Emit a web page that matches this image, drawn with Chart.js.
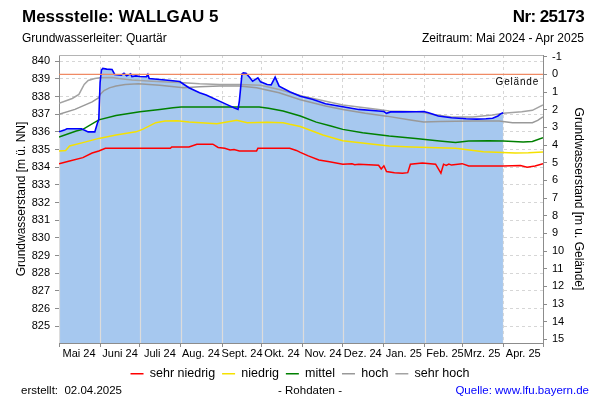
<!DOCTYPE html>
<html><head><meta charset="utf-8">
<script src="https://cdn.jsdelivr.net/npm/chart.js@4/dist/chart.umd.min.js"></script>
<style>
body{margin:0;background:#fff;}
#wrap{position:relative;width:600px;height:400px;font-family:"Liberation Sans",Arial,sans-serif;color:#000;overflow:hidden;}
#wrap canvas{position:absolute;left:0;top:0;}
.t{position:absolute;white-space:nowrap;line-height:1;}
</style></head><body>
<div id="wrap">
<canvas id="c" width="600" height="400"></canvas>
<div class="t" style="left:22px;top:8px;font-size:17px;font-weight:bold;">Messstelle: WALLGAU 5</div>
<div class="t" style="right:16px;top:8px;font-size:17px;font-weight:bold;letter-spacing:-0.6px;">Nr: 25173</div>
<div class="t" style="left:22px;top:32px;font-size:12px;">Grundwasserleiter: Quartär</div>
<div class="t" style="right:16px;top:32px;font-size:12px;">Zeitraum: Mai 2024 - Apr 2025</div>
<div class="t" style="left:21px;top:385px;font-size:11.5px;">erstellt:&nbsp; 02.04.2025</div>
<div class="t" style="left:310px;transform:translateX(-50%);top:385px;font-size:11.5px;">- Rohdaten -</div>
<div class="t" style="right:11px;top:385px;font-size:11.5px;color:#0000ff;">Quelle: www.lfu.bayern.de</div>
</div>
<script>
const FONT = "'Liberation Sans', Arial, sans-serif";

// ---- axes / categories ----
const monthStarts = ['2024-05-01','2024-06-01','2024-07-01','2024-08-01','2024-09-01','2024-10-01','2024-11-01','2024-12-01','2025-01-01','2025-02-01','2025-03-01','2025-04-01','2025-05-01'];
const monthLabels = ['Mai 24','Juni 24','Juli 24','Aug. 24','Sept. 24','Okt. 24','Nov. 24','Dez. 24','Jan. 25','Feb. 25','Mrz. 25','Apr. 25'];
const levelTicks = [825,826,827,828,829,830,831,832,833,834,835,836,837,838,839,840];
const depthTicks = [-1,0,1,2,3,4,5,6,7,8,9,10,11,12,13,14,15];
const groundLevel = 839.25;

// ---- measured groundwater level (m ü. NN) ----
const measuredDates = ['2024-05-01','2024-05-05','2024-05-07','2024-05-18','2024-05-20','2024-05-23','2024-05-28','2024-05-30','2024-05-31','2024-06-01','2024-06-02','2024-06-03','2024-06-06','2024-06-10','2024-06-12','2024-06-17','2024-06-19','2024-06-21','2024-06-24','2024-06-25','2024-06-28','2024-07-01','2024-07-06','2024-07-07','2024-07-08','2024-07-16','2024-07-24','2024-07-31','2024-08-07','2024-08-15','2024-08-20','2024-08-30','2024-09-06','2024-09-10','2024-09-13','2024-09-14','2024-09-16','2024-09-17','2024-09-19','2024-09-22','2024-09-24','2024-09-28','2024-09-30','2024-10-05','2024-10-08','2024-10-11','2024-10-14','2024-10-22','2024-10-30','2024-11-08','2024-11-18','2024-12-01','2024-12-13','2024-12-28','2025-01-01','2025-01-03','2025-01-06','2025-01-15','2025-01-25','2025-01-31','2025-02-03','2025-02-06','2025-02-11','2025-02-21','2025-03-04','2025-03-12','2025-03-19','2025-03-24','2025-03-28','2025-03-30','2025-04-01'];
const measuredValues = [836.00,836.10,836.18,836.18,836.10,836.00,836.00,836.50,836.70,838.80,839.50,839.59,839.55,839.53,839.25,839.21,839.32,839.17,839.29,839.13,839.17,839.13,839.12,839.25,839.02,838.96,838.91,838.85,838.50,838.21,838.08,837.74,837.50,837.36,837.27,837.74,839.28,839.34,839.32,839.06,838.87,839.06,838.83,838.68,838.66,839.10,838.59,838.27,838.02,837.84,837.59,837.42,837.27,837.18,837.15,837.05,837.13,837.13,837.14,837.15,837.10,837.03,836.90,836.80,836.74,836.72,836.74,836.77,836.90,837.02,837.08];

// ---- reference levels ----
const sehrHochDates = ['2024-05-01','2024-05-11','2024-05-16','2024-05-20','2024-05-23','2024-05-28','2024-06-01','2024-06-10','2024-06-15','2024-06-25','2024-07-10','2024-08-03','2024-08-15','2024-08-30','2024-09-14','2024-09-30','2024-10-14','2024-11-01','2024-12-01','2024-12-28','2025-01-05','2025-01-28','2025-02-06','2025-02-21','2025-03-09','2025-03-24','2025-04-01','2025-04-15','2025-04-23','2025-05-01'];
const sehrHochValues = [837.61,837.89,838.12,838.68,838.91,839.02,839.06,839.08,839.02,838.93,838.87,838.78,838.72,838.68,838.68,838.64,838.40,838.02,837.52,837.27,837.18,837.14,836.99,836.84,836.84,836.95,837.05,837.14,837.22,837.52];

const hochDates = ['2024-05-01','2024-05-13','2024-05-26','2024-05-31','2024-06-01','2024-06-04','2024-06-08','2024-06-13','2024-06-20','2024-06-30','2024-07-16','2024-08-03','2024-08-15','2024-08-30','2024-09-14','2024-09-27','2024-10-14','2024-10-30','2024-11-18','2024-12-01','2024-12-18','2025-01-03','2025-01-21','2025-01-31','2025-02-12','2025-03-09','2025-03-29','2025-04-08','2025-04-23','2025-04-27','2025-05-01'];
const hochValues = [836.99,837.27,837.70,837.93,838.12,838.34,838.49,838.59,838.68,838.72,838.64,838.49,838.55,838.59,838.59,838.49,838.21,837.82,837.46,837.27,837.05,836.89,836.67,836.56,836.58,836.61,836.61,836.52,836.52,836.65,836.85];

const mittelDates = ['2024-05-01','2024-05-14','2024-05-19','2024-05-31','2024-06-13','2024-07-01','2024-07-16','2024-07-26','2024-08-01','2024-09-29','2024-10-06','2024-10-17','2024-10-30','2024-11-11','2024-11-22','2024-12-01','2024-12-16','2025-01-05','2025-01-25','2025-02-12','2025-02-24','2025-03-06','2025-03-21','2025-04-01','2025-04-16','2025-04-23','2025-05-01'];
const mittelValues = [835.71,836.05,836.14,836.68,836.92,837.14,837.27,837.36,837.40,837.40,837.33,837.18,836.90,836.55,836.33,836.14,835.95,835.77,835.63,835.48,835.40,835.48,835.50,835.48,835.43,835.46,835.67];

const niedrigDates = ['2024-05-01','2024-05-06','2024-05-09','2024-05-19','2024-05-31','2024-06-13','2024-06-28','2024-07-03','2024-07-13','2024-07-20','2024-07-29','2024-08-07','2024-08-28','2024-09-12','2024-09-20','2024-10-05','2024-10-17','2024-10-22','2024-10-30','2024-11-16','2024-12-01','2024-12-24','2025-01-05','2025-01-22','2025-02-24','2025-03-02','2025-03-17','2025-04-10','2025-04-20','2025-05-01'];
const niedrigValues = [834.92,834.95,835.20,835.39,835.63,835.82,836.00,836.14,836.52,836.61,836.63,836.56,836.46,836.65,836.52,836.55,836.52,836.43,836.30,835.82,835.50,835.30,835.20,835.14,835.07,835.01,834.87,834.81,834.82,834.86];

const sehrNiedrigDates = ['2024-05-01','2024-05-09','2024-05-19','2024-05-26','2024-05-31','2024-06-05','2024-07-24','2024-07-25','2024-08-07','2024-08-13','2024-08-25','2024-08-29','2024-09-03','2024-09-07','2024-09-10','2024-09-14','2024-09-27','2024-09-28','2024-10-22','2024-10-27','2024-10-30','2024-11-05','2024-11-13','2024-11-21','2024-12-01','2024-12-08','2024-12-10','2024-12-13','2024-12-28','2024-12-30','2025-01-01','2025-01-03','2025-01-09','2025-01-15','2025-01-19','2025-01-21','2025-01-30','2025-02-09','2025-02-13','2025-02-15','2025-02-17','2025-02-19','2025-02-21','2025-03-01','2025-03-06','2025-04-01','2025-04-14','2025-04-19','2025-04-25','2025-05-01'];
const sehrNiedrigValues = [834.20,834.35,834.54,834.80,834.92,835.07,835.07,835.14,835.14,835.30,835.30,835.12,835.07,834.97,835.00,834.92,834.92,835.07,835.07,834.95,834.84,834.64,834.41,834.31,834.17,834.19,834.14,834.17,834.11,833.90,834.08,833.75,833.69,833.66,833.69,834.17,834.24,834.17,833.66,834.17,834.10,834.18,834.12,834.20,834.07,834.07,834.10,834.00,834.07,834.20];

// ---- helpers ----
const BASE = Date.UTC(2024, 4, 1);
function dayOf(s){ const p = s.split('-').map(Number); return (Date.UTC(p[0], p[1]-1, p[2]) - BASE) / 86400000; }
function pts(dates, vals){ return dates.map((d, i) => ({x: dayOf(d), y: vals[i]})); }
function lineDs(label, dates, vals, color, order){
  return {label, data: pts(dates, vals), borderColor: color, backgroundColor: color, borderWidth: 1.5, pointRadius: 0, fill: false, order, yAxisID: 'y', tension: 0};
}
const AXIS = '#8c8c8c';

const decor = {
  id: 'decor',
  beforeDatasetsDraw(chart){
    const {ctx, chartArea: a} = chart;
    // month separators inside the measured-level area
    const meta = chart.getDatasetMeta(5);
    const p = meta.data;
    if (p && p.length){
      ctx.save();
      ctx.beginPath();
      ctx.moveTo(p[0].x, a.bottom);
      p.forEach(q => ctx.lineTo(q.x, q.y));
      ctx.lineTo(p[p.length-1].x, a.bottom);
      ctx.closePath();
      ctx.clip();
      ctx.strokeStyle = '#dcdcdc';
      ctx.lineWidth = 1.2;
      monthStarts.forEach(d => {
        const x = Math.round(chart.scales.x.getPixelForValue(dayOf(d))) + 0.5;
        ctx.beginPath(); ctx.moveTo(x, a.top); ctx.lineTo(x, a.bottom); ctx.stroke();
      });
      ctx.restore();
    }
    // top frame
    ctx.save();
    ctx.strokeStyle = '#b4b4b4'; ctx.lineWidth = 1;
    ctx.beginPath(); ctx.moveTo(a.left, Math.round(a.top)+0.5); ctx.lineTo(a.right, Math.round(a.top)+0.5); ctx.stroke();
    ctx.restore();
  },
  afterDatasetsDraw(chart){
    const {ctx, chartArea: a} = chart;
    const y = chart.scales.y.getPixelForValue(groundLevel);
    ctx.save();
    ctx.font = "10px " + FONT;
    try { ctx.letterSpacing = '0.8px'; } catch(e) {}
    ctx.fillStyle = '#000';
    ctx.textAlign = 'right';
    ctx.textBaseline = 'alphabetic';
    ctx.fillText('Gelände', a.right - 4, y + 10.5);
    ctx.restore();
  }
};

Chart.defaults.font.family = FONT;
Chart.defaults.color = '#000';

new Chart(document.getElementById('c'), {
  type: 'line',
  data: {
    datasets: [
      lineDs('sehr niedrig', sehrNiedrigDates, sehrNiedrigValues, '#ff0000', 2),
      lineDs('niedrig', niedrigDates, niedrigValues, '#f5e100', 3),
      lineDs('mittel', mittelDates, mittelValues, '#008000', 4),
      lineDs('hoch', hochDates, hochValues, '#999999', 5),
      lineDs('sehr hoch', sehrHochDates, sehrHochValues, '#a3a3a3', 6),
      {label: 'Messwerte', data: pts(measuredDates, measuredValues), borderColor: '#0000ff', backgroundColor: '#a6c8ef', fill: 'start', borderWidth: 1.6, pointRadius: 0, order: 1, yAxisID: 'y', tension: 0},
      {label: 'Gelände', data: [{x: dayOf(monthStarts[0]), y: groundLevel}, {x: dayOf(monthStarts[12]), y: groundLevel}], borderColor: '#f08a64', borderWidth: 1.3, pointRadius: 0, fill: false, order: 0, yAxisID: 'y'}
    ]
  },
  options: {
    responsive: false,
    animation: false,
    events: [],
    layout: {padding: {top: 55, left: 0, right: 0, bottom: 10}},
    plugins: {
      legend: {
        position: 'bottom',
        labels: {
          filter: item => item.datasetIndex < 5,
          usePointStyle: true, pointStyle: 'line', pointStyleWidth: 13,
          padding: 7, color: '#000', font: {family: FONT, size: 12.5}
        }
      },
      tooltip: {enabled: false},
      filler: {drawTime: 'beforeDatasetsDraw'}
    },
    scales: {
      x: {
        type: 'linear', position: 'bottom',
        min: dayOf(monthStarts[0]), max: dayOf(monthStarts[12]),
        afterBuildTicks: s => { s.ticks = monthStarts.map(d => ({value: dayOf(d)})); },
        afterFit: s => { s.height = 17.5; },
        grid: {color: '#d6d6d6', tickColor: AXIS, tickLength: 4, drawTicks: true},
        border: {color: AXIS, dash: [3, 3]},
        ticks: {autoSkip: false, maxRotation: 0, minRotation: 0, padding: 0, labelOffset: 20, color: '#000', font: {size: 11},
                callback: (v, i) => monthLabels[i] || ''}
      },
      y: {
        type: 'linear', position: 'left',
        min: 824.05, max: 840.35,
        afterBuildTicks: s => { s.ticks = levelTicks.map(v => ({value: v})); },
        afterFit: s => { s.width = 59; },
        grid: {color: '#d6d6d6', tickColor: AXIS, tickLength: 4},
        border: {color: AXIS, dash: [3, 3]},
        ticks: {padding: 5, color: '#000', font: {size: 11}, callback: v => String(v)},
        title: {display: true, text: 'Grundwasserstand [m ü. NN]', color: '#000', font: {size: 12}, padding: {top: 14.5, bottom: 0}}
      },
      y2: {
        type: 'linear', position: 'right', reverse: true,
        min: -1.1, max: 15.2,
        afterBuildTicks: s => { s.ticks = depthTicks.map(v => ({value: v})); },
        afterFit: s => { s.width = 57; },
        grid: {drawOnChartArea: false, tickColor: AXIS, tickLength: 4},
        border: {color: AXIS},
        ticks: {padding: 5, color: '#000', font: {size: 11}, callback: v => String(v)},
        title: {display: true, text: 'Grundwasserstand [m u. Gelände]', color: '#000', font: {size: 12}, padding: {top: 14.8, bottom: 0}}
      }
    }
  },
  plugins: [decor]
});
</script>
</body></html>
